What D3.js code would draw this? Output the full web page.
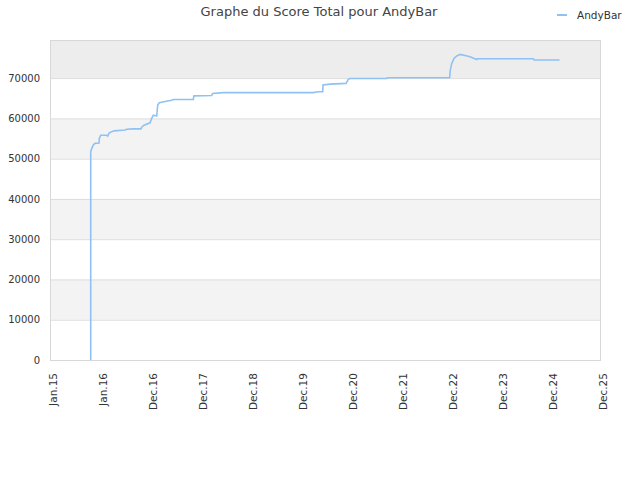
<!DOCTYPE html>
<html>
<head>
<meta charset="utf-8">
<script src="https://cdn.jsdelivr.net/npm/d3@7"></script>
<style>
    body { margin: 0; background: #fff; }
    text { font-family: "DejaVu Sans", sans-serif; fill: #333; }
</style>
</head>
<body>
<div id="chart"></div>
<script>
// years since Jan 2015 (one tick step = one unit)
const times = [0.814, 0.814, 0.834, 0.866, 0.90, 0.98, 0.986, 1.014, 1.134, 1.154, 1.186, 1.28, 1.50, 1.534,
    1.666, 1.82, 1.834, 1.88, 2.00, 2.034, 2.066, 2.134, 2.154, 2.186, 2.30, 2.434, 2.466, 2.866, 2.88,
    3.234, 3.254, 3.466, 5.266, 5.366, 5.454, 5.46, 5.60, 5.92, 5.966, 6.00, 6.734, 6.746, 7.992, 8.006,
    8.034, 8.08, 8.134, 8.206, 8.30, 8.40, 8.534, 8.546, 9.666, 9.686, 10.19];
const scores = [0, 51700, 52500, 53400, 53800, 53900, 55000, 55800, 55800, 55600, 56400, 56900, 57100, 57300,
    57400, 57400, 57800, 58300, 58900, 60000, 60800, 60600, 63300, 63900, 64200, 64500, 64700, 64700, 65600,
    65700, 66200, 66400, 66400, 66600, 66600, 68300, 68500, 68700, 69700, 69900, 69900, 70100, 70100, 72000,
    73600, 74900, 75500, 75900, 75600, 75300, 74600, 74800, 74800, 74500, 74500];
const tickLabels = ["Jan.15", "Jan.16", "Dec.16", "Dec.17", "Dec.18", "Dec.19", "Dec.20", "Dec.21",
    "Dec.22", "Dec.23", "Dec.24", "Dec.25"];
const yTicks = [0, 10000, 20000, 30000, 40000, 50000, 60000, 70000];
const seriesName = "AndyBar";

const W = 640, H = 480;
const margin = { top: 40, right: 40, bottom: 120, left: 50 };
const width = W - margin.left - margin.right;
const height = H - margin.top - margin.bottom;
const lineColor = "#8fc1f3";

const svg = d3.select("#chart").append("svg")
    .attr("width", W)
    .attr("height", H);

svg.append("text")
    .attr("x", 319)
    .attr("y", 16)
    .attr("text-anchor", "middle")
    .style("font-size", "13px")
    .style("fill", "#444")
    .text("Graphe du Score Total pour " + seriesName);

// legend
svg.append("line")
    .attr("x1", 557).attr("x2", 567)
    .attr("y1", 15).attr("y2", 15)
    .attr("stroke", lineColor)
    .attr("stroke-width", 2);
svg.append("text")
    .attr("x", 577)
    .attr("y", 19)
    .style("font-size", "10.5px")
    .text(seriesName);

const g = svg.append("g")
    .attr("transform", "translate(" + margin.left + "," + margin.top + ")");

const xScale = d3.scaleLinear().domain([0, tickLabels.length - 1]).range([0, width]);
const yScale = d3.scaleLinear().domain([0, d3.max(scores) * 1.047]).range([height, 0]);

// alternating bands between gridlines
const bandEdges = yTicks.concat([yScale.domain()[1]]);
for (let i = 0; i < bandEdges.length - 1; i++) {
    let fill = i % 2 === 1 ? "#f3f3f3" : "#ffffff";
    if (i === bandEdges.length - 2) fill = "#ededed";
    g.append("rect")
        .attr("x", 0)
        .attr("y", yScale(bandEdges[i + 1]))
        .attr("width", width)
        .attr("height", yScale(bandEdges[i]) - yScale(bandEdges[i + 1]))
        .attr("fill", fill);
}

g.selectAll(".grid")
    .data(yTicks.slice(1))
    .enter().append("line")
    .attr("class", "grid")
    .attr("x1", 0).attr("x2", width)
    .attr("y1", d => yScale(d) + 0.5).attr("y2", d => yScale(d) + 0.5)
    .attr("stroke", "#dddddd");

g.append("rect")
    .attr("x", 0.5).attr("y", 0.5)
    .attr("width", width).attr("height", height)
    .attr("fill", "none")
    .attr("stroke", "#d8d8d8");

const line = d3.line().x((d, i) => xScale(times[i])).y(d => yScale(d));

g.append("path")
    .datum(scores)
    .attr("fill", "none")
    .attr("stroke", lineColor)
    .attr("stroke-width", 1.6)
    .attr("d", line);

// Y axis
const yAxis = d3.axisLeft(yScale).tickValues(yTicks).tickSize(0).tickPadding(10).tickFormat(d3.format("d"));
g.append("g").call(yAxis)
    .call(a => a.select(".domain").remove())
    .selectAll("text")
    .style("font-size", "10px");

// X axis
const xAxis = d3.axisBottom(xScale).tickValues(d3.range(tickLabels.length))
    .tickSize(0).tickFormat(i => tickLabels[i]);
const xg = g.append("g")
    .attr("transform", "translate(0," + height + ")")
    .call(xAxis);
xg.select(".domain").remove();
xg.selectAll("text")
    .style("font-size", "10.5px")
    .attr("text-anchor", "end")
    .attr("dx", 0)
    .attr("dy", 0)
    .attr("transform", "translate(3,13) rotate(-90)");
</script>
</body>
</html>
